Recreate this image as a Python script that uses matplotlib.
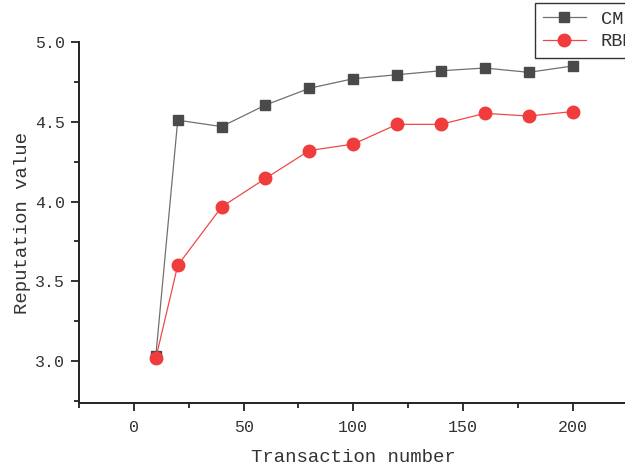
import numpy as np
import matplotlib
matplotlib.use('Agg')
from matplotlib import pyplot as plt
from matplotlib.ticker import MultipleLocator

transactions = [10, 20, 40, 60, 80, 100, 120, 140, 160, 180, 200]
cm_values = [3.03, 4.51, 4.47, 4.605, 4.71, 4.77, 4.795, 4.82, 4.837, 4.81, 4.85]
rbm_values = [3.017, 3.60, 3.966, 4.145, 4.32, 4.36, 4.484, 4.484, 4.553, 4.536, 4.564]

plt.rcParams['font.family'] = ['Liberation Mono', 'DejaVu Sans']
text_color = '#333333'

fig = plt.figure(figsize=(6.25, 4.67), dpi=100)
ax = fig.add_axes([0.1264, 0.137, 0.8776, 0.773])

ax.plot(transactions, cm_values, color='#707070', lw=0.9, marker='s', ms=7.5,
        mfc='#4a4a4a', mec='#4a4a4a', label='CM')
ax.plot(transactions, rbm_values, color='#f04848', lw=0.9, marker='o', ms=9,
        mfc='#f03c3c', mec='#f03c3c', label='RBM')

ax.set_xlim(-25, 225)
ax.set_ylim(2.737, 5.0)
ax.xaxis.set_major_locator(MultipleLocator(50))
ax.xaxis.set_minor_locator(MultipleLocator(25))
ax.yaxis.set_major_locator(MultipleLocator(0.5))
ax.yaxis.set_minor_locator(MultipleLocator(0.25))
ax.yaxis.set_major_formatter(matplotlib.ticker.FormatStrFormatter('%.1f'))

for s in ['top', 'right']:
    ax.spines[s].set_visible(False)
for s in ['left', 'bottom']:
    ax.spines[s].set_linewidth(1.4)
    ax.spines[s].set_color('#222222')

ax.tick_params(which='major', direction='out', length=6, width=1.3, color='#222222',
               labelsize=12, labelcolor=text_color)
ax.tick_params(which='minor', direction='out', length=3.5, width=1.3, color='#222222')
ax.tick_params(axis='x', which='major', pad=6)
ax.tick_params(axis='y', which='major', pad=4)

ax.set_xlabel('Transaction number', fontsize=13.7, color=text_color, labelpad=10)
ax.set_ylabel('Reputation value', fontsize=13.7, color=text_color, labelpad=3)

leg = fig.legend(loc='upper left', bbox_to_anchor=(535 / 625, 1 - 3 / 467),
                 fontsize=13.5, frameon=True, fancybox=False, edgecolor='black',
                 borderaxespad=0, handlelength=2.3, labelcolor=text_color,
                 borderpad=0.4, labelspacing=0.3)
leg.get_frame().set_linewidth(1.0)

fig.savefig('out.png', dpi=100)
